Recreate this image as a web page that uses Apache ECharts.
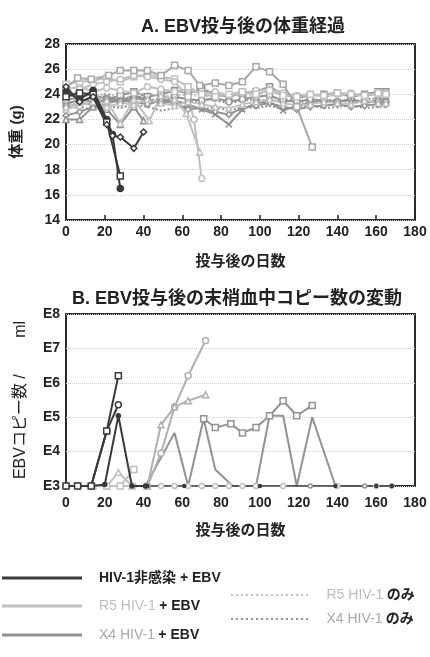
<!DOCTYPE html>
<html><head><meta charset="utf-8">
<script src="https://cdn.jsdelivr.net/npm/echarts@6/dist/echarts.min.js"></script>
<style>html,body{margin:0;padding:0;background:#fff}#c{width:430px;height:657px}</style>
</head><body><div id="c"></div>
<script>
// ---------- names ----------
const G1 = 'HIV-1非感染 + EBV';
const G2 = 'R5 HIV-1 + EBV';
const G3 = 'X4 HIV-1 + EBV';
const G4 = 'R5 HIV-1 のみ';
const G5 = 'X4 HIV-1 のみ';
const titleA = 'A. EBV投与後の体重経過';
const titleB = 'B. EBV投与後の末梢血中コピー数の変動';
const xName = '投与後の日数';
const yNameA = '体重 (g)';
const yNameB = 'EBVコピー数 /　　 ml';

// ---------- Chart A : body weight (g) ----------
const bandDays = [0,7,14,21,28,35,42,49,56,63,70,77,84,91,98,105,112,119,126,133,140,147,154,161,165];
const aDark1 = [[0,24.2],[7,23.6],[14,24.3],[21,22.0],[24,20.8],[28,16.5]];
const aDark2 = [[0,23.8],[7,24.1],[14,24.0],[21,21.8],[28,17.5]];
const aDark3 = [[0,24.6],[7,23.4],[14,23.8],[21,21.6],[24,20.7],[28,20.6],[35,19.7],[40,21.0]];
const aR5high = [[0,24.5],[6,25.3],[13,25.2],[22,25.5],[28,25.9],[35,25.9],[42,25.9],[49,25.5],[56,26.3],[63,25.9],[69,24.7],[77,24.9],[84,24.7],[91,25.0],[98,26.2],[105,25.8],[112,24.8],[119,23.0],[127,19.8]];
const aR5mid = [[0,24.8],[7,25.0],[14,25.1],[21,25.3],[28,25.0],[35,25.4],[42,25.6],[49,25.4],[56,25.2],[63,24.6],[70,24.0],[77,23.8],[84,24.0],[91,24.2],[98,24.0],[105,24.3],[112,23.9],[119,23.8],[126,24.0],[133,23.9],[140,24.1],[147,24.0],[154,23.9],[161,24.1],[165,24.0]];
const aR5drop1 = [[0,23.6],[7,24.4],[14,24.8],[21,25.0],[28,25.2],[35,25.5],[42,25.4],[49,25.2],[56,25.0],[63,23.8],[66,22.0],[70,17.3]];
const aR5drop2 = [[0,23.0],[7,23.4],[14,23.8],[21,23.5],[28,21.7],[35,23.6],[43,21.9],[49,23.9],[56,23.6],[62,22.5],[69,19.4]];
const aR5long1 = [24.4,24.6,24.2,24.5,24.3,24.1,24.6,24.4,24.2,24.4,24.0,24.2,23.9,24.1,24.3,24.4,24.1,23.9,24.0,23.8,24.0,24.1,23.9,24.0,24.1];
const aR5long2 = [22.8,23.1,23.4,23.0,23.3,23.2,23.6,23.3,23.1,23.4,23.2,23.0,22.9,23.2,23.4,23.6,23.3,23.1,23.2,23.4,23.3,23.2,23.5,23.3,23.3];
const aX4long1 = [23.5,23.8,24.0,23.6,23.9,24.2,23.8,24.0,24.3,24.1,24.4,24.0,23.8,24.1,24.2,24.6,24.0,23.7,23.9,24.0,24.1,23.8,24.0,24.2,24.2];
const aX4long2 = [23.0,23.3,23.2,23.6,23.4,23.7,23.5,23.4,23.8,23.6,23.5,23.7,23.4,23.6,23.8,23.9,23.5,23.4,23.6,23.5,23.4,23.6,23.3,23.5,23.4];
const aX4long3 = [22.3,22.6,23.0,23.3,23.5,23.4,23.2,23.5,23.3,22.8,22.9,22.6,22.4,22.9,23.1,23.3,23.0,22.8,23.0,23.1,23.2,23.0,23.1,23.2,23.2];
const aX4cross = [23.2,23.6,23.4,23.8,23.5,23.9,23.6,23.3,23.5,23.2,22.8,22.4,21.6,22.8,23.3,23.4,22.7,23.1,23.3,23.5,23.4,23.6,23.3,23.5,23.5];
const aX4short = [[0,22.0],[7,22.0],[14,23.0],[21,22.8],[28,21.6],[35,23.0],[40,21.9]];
const aR5only = [24.0,24.2,23.8,24.1,23.7,23.9,24.1,23.8,23.9,24.0,23.8,23.9,24.1,23.8,24.0,24.3,23.9,24.0,23.8,23.9,24.0,23.9,24.1,23.9,24.0];
const aX4only = [23.3,23.5,23.7,23.4,23.6,23.3,23.5,23.7,23.4,23.3,23.6,23.5,23.3,23.5,23.6,23.4,23.6,23.5,23.3,23.6,23.5,23.4,23.6,23.7,23.6];
const aX4only2 = [22.9,23.0,22.8,23.1,22.9,23.2,23.0,22.7,22.9,23.1,22.8,23.0,22.7,23.0,22.9,23.1,22.8,23.0,23.1,22.9,23.0,23.1,22.9,23.0,23.0];

// ---------- Chart B : EBV copies / ml ----------
const bDark1 = [[0,1e3],[6,1e3],[13,1e3],[21,4e4],[27,1.6e6]];
const bDark2 = [[0,1e3],[6,1e3],[13,1e3],[21,4e4],[27,2.3e5]];
const bDark3 = [[0,1e3],[13,1e3],[20,1.1e3],[27,1.1e5],[34,1e3],[41,1e3]];
const bDarkBase = [[42,1e3],[61,1e3],[100,1e3],[139,1e3],[160,1e3],[168,1e3]];
const bR5a = [[42,1e3],[49,9e3],[56,2e5],[63,1.6e6],[72,1.7e7]];
const bR5b = [[42,1e3],[49,6e4],[56,2e5],[63,3e5],[72,4.5e5]];
const bR5c = [[14,1e3],[21,1e3],[27,2.5e3],[34,1e3]];
const bR5d = [[21,1e3],[28,1e3],[35,3e3]];
const bX4spike = [[41,1e3],[56,3.5e4],[63,1e3],[71,9e4],[77,3e3],[86,1e3],[98,1e3],[105,1.1e5],[112,1.1e5],[119,1e3],[127,1e5],[139,1e3],[160,1e3]];
const bX4sq = [[71,9e4],[77,5e4],[85,6.5e4],[91,3.5e4],[98,5e4],[105,1.1e5],[112,3e5],[119,1.1e5],[127,2.2e5]];
const bBase1 = [[0,1e3],[7,1e3],[14,1e3],[21,1e3],[28,1e3],[35,1e3],[42,1e3],[49,1e3],[56,1e3],[63,1e3],[70,1e3],[77,1e3],[84,1e3],[91,1e3],[98,1e3]];
const bBase2 = [[98,1e3],[112,1e3],[126,1e3],[140,1e3],[154,1e3],[168,1e3]];
const bBase3 = [[0,1e3],[14,1e3],[28,1e3],[42,1e3],[56,1e3],[70,1e3],[84,1e3],[98,1e3],[112,1e3],[140,1e3],[160,1e3]];

// ---------- styles ----------
const DARK = '#3a3a3a', LIGHT = '#c0c0c0', MID = '#929292';
const FONT = "'Liberation Sans','Noto Sans CJK JP',sans-serif";
const TXT = '#222';

function zipDays(vals){ return bandDays.map((d,i)=>[d, vals[i]]); }

function mk(name, gi, data, color, symbol, opts){
  opts = opts || {};
  return {
    type:'line', name:name, xAxisIndex:gi, yAxisIndex:gi, data:data,
    symbol: symbol || 'none', symbolSize: opts.size || 6, showSymbol: !!symbol,
    lineStyle:{color:color, width: opts.width || 2, type: opts.dotted ? 'dotted':'solid'},
    itemStyle:{color: opts.fill || '#fff', borderColor:color, borderWidth:1.5},
    color: color, z: opts.z || 2, animation:false, silent:true
  };
}

const series = [
  // A
  mk(G3,0,zipDays(aX4long1),MID,'rect'),
  mk(G3,0,zipDays(aX4long2),MID,'circle'),
  mk(G3,0,zipDays(aX4long3),MID,'diamond'),
  mk(G3,0,zipDays(aX4cross),MID,'path://M0,0L10,10M10,0L0,10'),
  mk(G3,0,aX4short,MID,'triangle'),
  mk(G5,0,zipDays(aX4only),MID,null,{dotted:true}),
  mk(G5,0,zipDays(aX4only2),MID,null,{dotted:true}),
  mk(G4,0,zipDays(aR5only),LIGHT,null,{dotted:true}),
  mk(G2,0,zipDays(aR5long1),LIGHT,'circle'),
  mk(G2,0,zipDays(aR5long2),LIGHT,'triangle'),
  mk(G2,0,aR5mid,LIGHT,'rect'),
  mk(G2,0,aR5drop1,LIGHT,'circle'),
  mk(G2,0,aR5drop2,LIGHT,'triangle'),
  mk(G2,0,aR5high,'#a8a8a8','rect'),
  mk(G1,0,aDark1,DARK,'circle',{fill:DARK,z:5}),
  mk(G1,0,aDark2,DARK,'rect',{z:5}),
  mk(G1,0,aDark3,DARK,'diamond',{z:5}),
  // B
  mk(G4,1,bBase1,LIGHT,'circle',{size:5}),
  mk(G5,1,bBase2,MID,'circle',{size:4}),
  mk(G2,1,bBase3,LIGHT,'circle',{size:5}),
  mk(G3,1,bX4spike,MID,null),
  mk(G3,1,bX4sq,MID,'rect'),
  mk(G2,1,bR5a,'#b0b0b0','circle'),
  mk(G2,1,bR5b,'#b0b0b0','triangle'),
  mk(G2,1,bR5c,LIGHT,'triangle'),
  mk(G2,1,bR5d,LIGHT,'rect'),
  mk(G1,1,bDarkBase,DARK,'circle',{size:3,fill:DARK,width:1.5}),
  mk(G1,1,bDark3,DARK,'circle',{size:4,fill:DARK,z:5}),
  mk(G1,1,bDark2,DARK,'circle',{z:5}),
  mk(G1,1,bDark1,DARK,'rect',{z:5}),
];

function dottedPath(){
  let p = 'path://';
  for (let x=0; x<80; x+=5) p += 'M'+x+',0h2v2h-2z';
  return p;
}
const solidPath = 'path://M0,0H80V3H0Z';

const rich = {
  b:{color:TXT, fontWeight:'bold', fontSize:14, fontFamily:FONT},
  g:{color:'#bdbdbd', fontSize:14, fontFamily:FONT},
  m:{color:'#a8a8a8', fontSize:14, fontFamily:FONT},
  sp:{width:12}
};
function legendItem(name, left, top, icon, color, fmt){
  return {
    data:[{name:name, icon:icon, itemStyle:{color:color, borderWidth:0, opacity:1}}],
    left:left, top:top, padding:0,
    itemWidth:80, itemHeight: icon===solidPath ? 3 : 2,
    selectedMode:false, formatter: ()=>fmt,
    itemStyle:{borderWidth:0},
    textStyle:{rich:rich, fontFamily:FONT}
  };
}

const axisLabelStyle = {color:TXT, fontWeight:'bold', fontSize:14, fontFamily:FONT};
const nameStyle = {color:TXT, fontWeight:'bold', fontSize:15, fontFamily:FONT};

const option = {
  backgroundColor:'#fff',
  animation:false,
  title:[
    {text:titleA, left:238, top:13, textAlign:'center', textStyle:{color:TXT,fontWeight:'bold',fontSize:18,fontFamily:FONT}},
    {text:titleB, left:232, top:285, textAlign:'center', textStyle:{color:TXT,fontWeight:'bold',fontSize:18,fontFamily:FONT}}
  ],
  grid:[
    {left:66, top:44, width:349, height:176, show:true, borderColor:'#2a2a2a', borderWidth:2, backgroundColor:'transparent'},
    {left:66, top:314, width:349, height:172, show:true, borderColor:'#2a2a2a', borderWidth:2, backgroundColor:'transparent'}
  ],
  xAxis:[
    {type:'value', gridIndex:0, min:0, max:180, interval:20,
     axisLine:{show:false}, axisTick:{show:true, inside:true, length:5, lineStyle:{color:'#222', width:1.5}},
     splitLine:{show:false}, axisLabel:Object.assign({margin:5}, axisLabelStyle),
     name:xName, nameLocation:'middle', nameGap:34, nameTextStyle:nameStyle},
    {type:'value', gridIndex:1, min:0, max:180, interval:20,
     axisLine:{show:false}, axisTick:{show:false},
     splitLine:{show:false}, axisLabel:Object.assign({margin:10}, axisLabelStyle),
     name:xName, nameLocation:'middle', nameGap:37, nameTextStyle:nameStyle}
  ],
  yAxis:[
    {type:'value', gridIndex:0, min:14, max:28, interval:2,
     axisLine:{show:false}, axisTick:{show:false},
     splitLine:{show:true, lineStyle:{color:'#cfcfcf', type:'dotted', width:1}},
     axisLabel:Object.assign({margin:6}, axisLabelStyle),
     name:yNameA, nameLocation:'middle', nameRotate:90, nameGap:42, nameTextStyle:nameStyle},
    {type:'log', gridIndex:1, min:1e3, max:1e8, logBase:10,
     axisLine:{show:false}, axisTick:{show:false},
     splitLine:{show:true, lineStyle:{color:'#cfcfcf', type:'dotted', width:1}},
     axisLabel:Object.assign({margin:6, formatter:v=>'E'+Math.round(Math.log10(v))}, axisLabelStyle),
     name:yNameB, nameLocation:'middle', nameRotate:90, nameGap:37,
     nameTextStyle:{color:TXT, fontSize:16, fontFamily:FONT}}
  ],
  legend:[
    legendItem(G1, 2, 571, solidPath, DARK, '{sp| }{b|HIV-1非感染 + EBV}'),
    legendItem(G2, 2, 599, solidPath, LIGHT, '{sp| }{g|R5 HIV-1} {b|+ EBV}'),
    legendItem(G3, 2, 628, solidPath, MID, '{sp| }{m|X4 HIV-1} {b|+ EBV}'),
    legendItem(G4, 231, 588, dottedPath(), LIGHT, '{sp| }{g|R5 HIV-1} {b|のみ}'),
    legendItem(G5, 231, 612, dottedPath(), MID, '{sp| }{m|X4 HIV-1} {b|のみ}')
  ],
  series:series
};
const chart = echarts.init(document.getElementById('c'), null, {renderer:'canvas'});
chart.setOption(option);
</script></body></html>
